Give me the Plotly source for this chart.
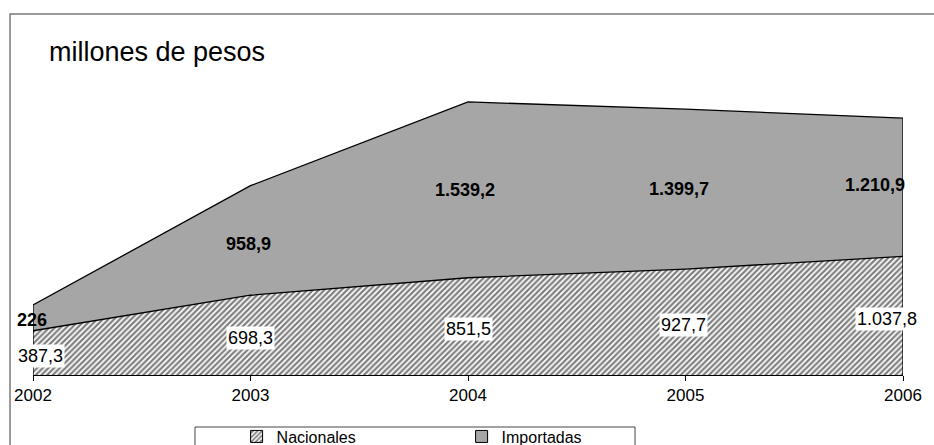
import plotly.graph_objects as go

years = [2002, 2003, 2004, 2005, 2006]
nacionales = [387.3, 698.3, 851.5, 927.7, 1037.8]
importadas = [226, 958.9, 1539.2, 1399.7, 1210.9]
nac_labels = ["387,3", "698,3", "851,5", "927,7", "1.037,8"]
imp_labels = ["226", "958,9", "1.539,2", "1.399,7", "1.210,9"]

totals = [n + i for n, i in zip(nacionales, importadas)]
FONT = "Liberation Sans, Arial, sans-serif"
HATCH = dict(shape="/", fgcolor="black", bgcolor="white", size=4, solidity=0.55)
GRAY = "#a6a6a6"

fig = go.Figure()

# Nacionales (hatched, bottom)
fig.add_trace(go.Scatter(
    x=years, y=nacionales, name="Nacionales",
    mode="lines", stackgroup="one",
    line=dict(color="black", width=1.3),
    fillcolor="white", fillpattern=HATCH,
    showlegend=False, hoverinfo="skip",
))

# Importadas (gray, top)
fig.add_trace(go.Scatter(
    x=years, y=importadas, name="Importadas",
    mode="lines", stackgroup="one",
    line=dict(color="black", width=1.3),
    fillcolor=GRAY,
    showlegend=False, hoverinfo="skip",
))

# vertical outline edges at both ends
for k in (0, -1):
    fig.add_trace(go.Scatter(
        x=[years[k], years[k]], y=[0, totals[k]],
        mode="lines", line=dict(color="black", width=1.3),
        showlegend=False, hoverinfo="skip",
    ))

# legend-only square swatches
fig.add_trace(go.Bar(x=[None], y=[None], name="Nacionales",
                     marker=dict(color="white", pattern=HATCH, line=dict(color="black", width=1))))
fig.add_trace(go.Bar(x=[None], y=[None], name="Importadas",
                     marker=dict(color=GRAY, line=dict(color="black", width=1))))

# data labels
nac_xshift = [7, 0, 0, -2, -16]
imp_xshift = [-1, -2, -3, -7, -28]
imp_yshift = [-2, -4, 0, 0, 2]
for k, yr in enumerate(years):
    fig.add_annotation(
        x=yr, y=nacionales[k] / 2, text=nac_labels[k], showarrow=False,
        xshift=nac_xshift[k], yshift=-3, bgcolor="white", borderpad=1,
        font=dict(family=FONT, size=18, color="black"),
    )
    fig.add_annotation(
        x=yr, y=nacionales[k] + importadas[k] / 2, text="<b>" + imp_labels[k] + "</b>",
        showarrow=False, xshift=imp_xshift[k], yshift=imp_yshift[k],
        font=dict(family=FONT, size=18, color="black"),
    )

# title text
fig.add_annotation(
    x=0.0161, y=1.0875, xref="paper", yref="paper", xanchor="left", yanchor="middle",
    text="millones de pesos", showarrow=False,
    font=dict(family=FONT, size=27, color="black"),
)

# outer frame
fig.add_shape(
    type="rect", xref="paper", yref="paper",
    x0=-0.0264, x1=1.06, y0=-0.35, y1=1.2155,
    line=dict(color="#7a7a7a", width=1.5), layer="below",
)
# legend box
fig.add_shape(
    type="rect", xref="paper", yref="paper",
    x0=0.1862, x1=0.692, y0=-0.35, y1=-0.1751,
    line=dict(color="#444444", width=1), fillcolor="white", layer="below",
)

fig.update_layout(
    width=934, height=445,
    margin=dict(l=33, r=31, t=78, b=70, autoexpand=False),
    paper_bgcolor="white", plot_bgcolor="white",
    font=dict(family=FONT, size=16, color="black"),
    xaxis=dict(
        range=[2002, 2006], tickvals=years, ticktext=[str(y) for y in years],
        showline=True, linecolor="black", linewidth=1,
        ticks="outside", ticklen=5, tickcolor="black",
        showgrid=False, zeroline=False,
        tickfont=dict(family=FONT, size=17),
    ),
    yaxis=dict(range=[0, 2600], visible=False, showgrid=False),
    showlegend=True,
    legend=dict(
        orientation="h", x=0.234, xanchor="left", y=-0.15, yanchor="top",
        bgcolor="rgba(0,0,0,0)", borderwidth=0,
        font=dict(family=FONT, size=16), traceorder="normal",
        itemwidth=30, entrywidth=180, entrywidthmode="pixels",
    ),
)

fig.write_html(
    "out.html",
    config={"displayModeBar": False},
    post_script="document.body.style.margin='0px';",
)
